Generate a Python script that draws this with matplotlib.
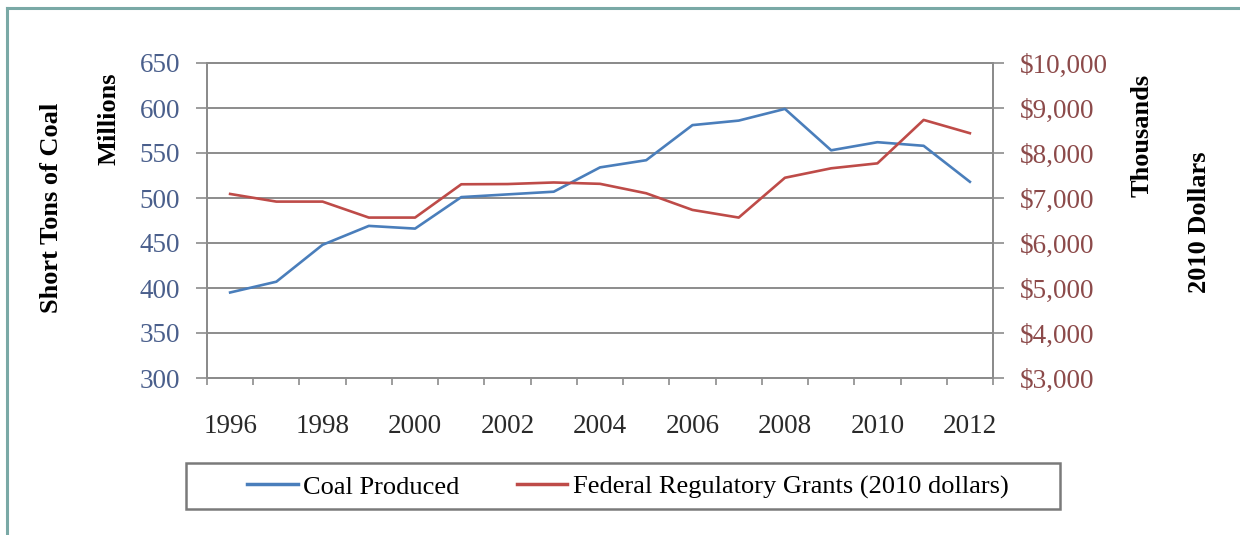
import matplotlib.pyplot as plt
from matplotlib.patches import Rectangle
import numpy as np

# coal production (millions of short tons) and federal grants (thousands, 2010 dollars)
years = list(range(1996, 2013))
coal_produced = [395, 407, 448, 469, 466, 501, 504, 507, 534, 542, 581, 586, 599, 553, 562, 558, 518]
reg_grants = [7090, 6920, 6920, 6565, 6565, 7305, 7310, 7345, 7315, 7105, 6735, 6565, 7450, 7660, 7770, 8735, 8440]

blue = "#4a7ebb"
red = "#be4b48"
grid_gray = "#8c8c8c"

plt.rcParams["font.family"] = ["Liberation Serif", "DejaVu Serif"]

W, H = 1240, 535
fig = plt.figure(figsize=(W / 100, H / 100), dpi=100)
ax = fig.add_axes([207 / W, 1 - 378 / H, (993 - 207) / W, (378 - 63) / H])
ax2 = ax.twinx()

x = np.arange(len(years))
l1, = ax.plot(x, coal_produced, color=blue, lw=1.9, label="Coal Produced", zorder=3)
l2, = ax2.plot(x, reg_grants, color=red, lw=1.9, label="Federal Regulatory Grants (2010 dollars)", zorder=3)

ax.set_xlim(-0.5, len(years) - 0.5)
ax.set_ylim(300, 650)
ax.set_yticks(np.arange(300, 651, 50))
ax2.set_ylim(3000, 10000)
ax2.set_yticks(np.arange(3000, 10001, 1000))
ax2.set_yticklabels(["${:,}".format(v) for v in range(3000, 10001, 1000)])

# category axis: labels every other year, tick marks between categories
ax.set_xticks(x[::2])
ax.set_xticklabels([str(y) for y in years[::2]])
ax.set_xticks(np.arange(-0.5, len(years), 1), minor=True)
ax.tick_params(axis="x", which="major", length=0, pad=26, labelsize=19.5, colors="#2a2a2a")
ax.tick_params(axis="x", which="minor", length=5, width=1.2, color=grid_gray, direction="out")

ax.tick_params(axis="y", length=8, width=1.2, color=grid_gray, pad=11.5, labelsize=19.5, labelcolor="#4a5f8c")
ax2.tick_params(axis="y", length=8, width=1.2, color=grid_gray, pad=11.5, labelsize=19.5, labelcolor="#8c4a4a")

ax.grid(axis="y", color=grid_gray, lw=1.4)
ax.set_axisbelow(True)
for a in (ax, ax2):
    for s in a.spines.values():
        s.set_color(grid_gray)
        s.set_linewidth(1.4)

# axis titles
title_kw = dict(fontsize=19, fontweight="bold", rotation=90, ha="center", va="center", color="black")
fig.text(52 / W, 1 - 208 / H, "Short Tons of Coal", **title_kw)
fig.text(109 / W, 1 - 119 / H, "Millions", **title_kw)
fig.text(1142 / W, 1 - 135 / H, "Thousands", **title_kw)
fig.text(1199 / W, 1 - 222 / H, "2010 Dollars", **title_kw)

# legend entries with a plain box drawn around them
leg = fig.legend(handles=[l1, l2], loc="center", bbox_to_anchor=(628 / W, 1 - 487 / H),
                 ncol=2, fontsize=19, frameon=False, handlelength=1.9,
                 handletextpad=0.2, columnspacing=2.2, borderpad=0.0)
for h in leg.get_lines():
    h.set_linewidth(2.5)
fig.add_artist(Rectangle((186 / W, 1 - 509 / H), (1060 - 186) / W, 46 / H, transform=fig.transFigure,
                         fill=False, edgecolor="#7a7a7a", lw=1.8))

# teal frame along top and left edge
frame_col = "#7aa9a6"
fig.add_artist(plt.Line2D([7 / W, 1.0], [1 - 8 / H, 1 - 8 / H], color=frame_col, lw=2.2))
fig.add_artist(plt.Line2D([7 / W, 7 / W], [0.0, 1 - 8 / H], color=frame_col, lw=2.2))

fig.savefig("out.png", dpi=100)
